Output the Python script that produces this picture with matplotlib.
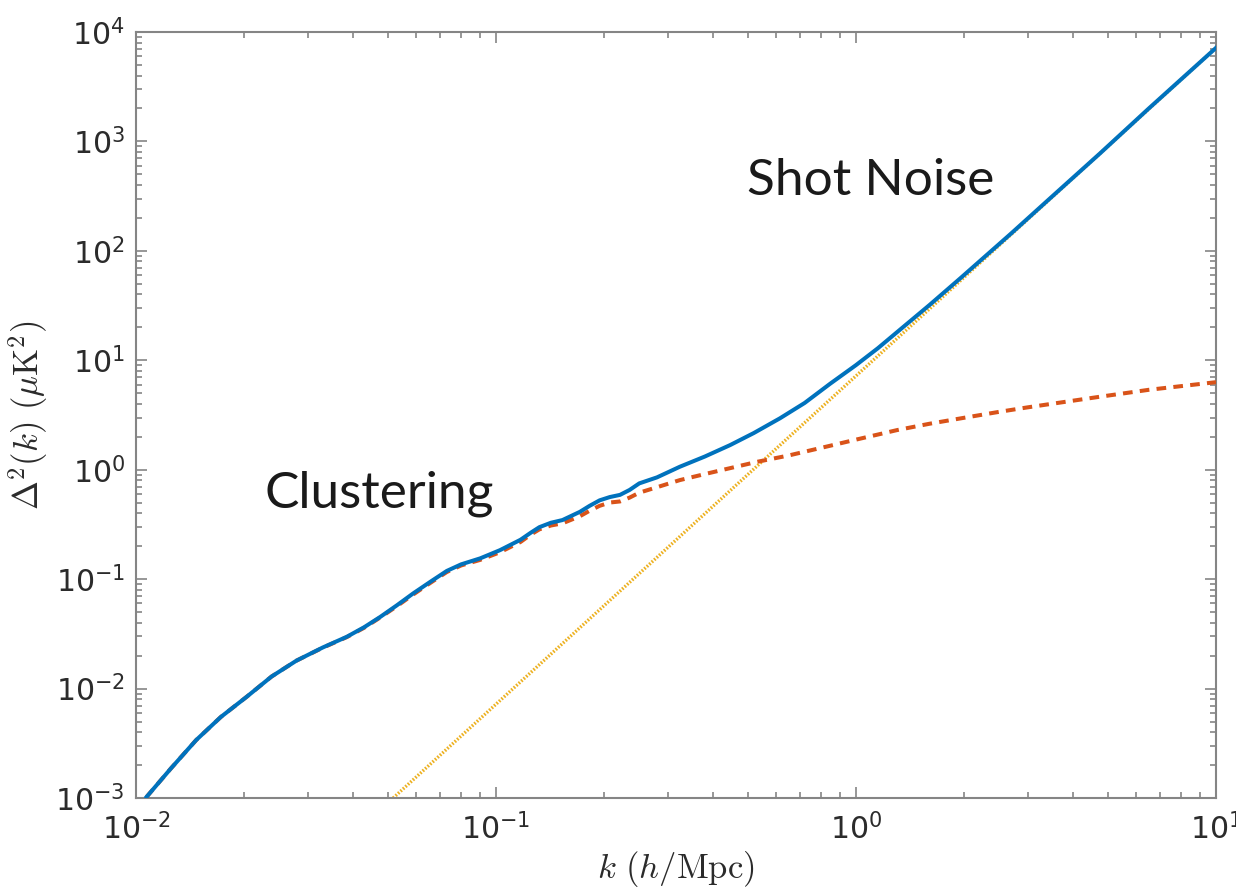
import numpy as np
import matplotlib
matplotlib.use("Agg")
import matplotlib.pyplot as plt
from matplotlib.ticker import LogLocator, FuncFormatter, NullFormatter

# ---- data ----
k_total = [0.0107, 0.0125, 0.0147, 0.0172, 0.0203, 0.0238, 0.0279, 0.0330, 0.0385,
           0.0430, 0.0477, 0.0530, 0.0589, 0.066, 0.073, 0.080, 0.0904, 0.1026,
           0.117, 0.125, 0.132, 0.142, 0.153, 0.171, 0.182, 0.194, 0.207, 0.221,
           0.235, 0.25, 0.28, 0.324, 0.38, 0.447, 0.52, 0.615, 0.72, 0.847, 1.0,
           1.15, 1.32, 1.6, 1.95, 2.7, 3.46, 4.76, 6.5, 10.0]
log_total = [-2.99, -2.73, -2.47, -2.26, -2.075, -1.89, -1.745, -1.625, -1.527,
             -1.44, -1.345, -1.24, -1.13, -1.02, -0.925, -0.865, -0.81, -0.735,
             -0.64, -0.575, -0.525, -0.485, -0.46, -0.385, -0.33, -0.28, -0.25, -0.23,
             -0.185, -0.125, -0.07, 0.027, 0.12, 0.225, 0.335, 0.47, 0.61, 0.785, 0.956,
             1.11, 1.275, 1.505, 1.75, 2.16, 2.48, 2.89, 3.30, 3.855]

k_clust = [0.0107, 0.0125, 0.0147, 0.0172, 0.0203, 0.0238, 0.0279, 0.0330, 0.0385,
           0.0430, 0.0477, 0.0530, 0.0589, 0.066, 0.073, 0.080, 0.0904, 0.1026,
           0.117, 0.125, 0.132, 0.142, 0.153, 0.171, 0.182, 0.194, 0.207, 0.221,
           0.235, 0.25, 0.28, 0.324, 0.38, 0.531, 0.65, 0.85, 1.0, 1.30, 1.6, 2.0,
           2.51, 3.0, 3.46, 4.76, 6.5, 10.0]
log_clust = [-2.99, -2.73, -2.47, -2.26, -2.075, -1.89, -1.745, -1.627, -1.53,
             -1.445, -1.35, -1.248, -1.14, -1.03, -0.935, -0.875, -0.824, -0.754,
             -0.66, -0.592, -0.545, -0.51, -0.49, -0.425, -0.375, -0.33, -0.30, -0.29,
             -0.255, -0.21, -0.16, -0.095, -0.04, 0.072, 0.13, 0.22, 0.275, 0.362, 0.42,
             0.475, 0.53, 0.57, 0.60, 0.667, 0.73, 0.80]

k_shot = [0.0518, 0.531, 10.0]
log_shot = [-3.0, 0.033, 3.856]

annot_text = ["Clustering", "Shot Noise"]
annot_k = [0.0228, 0.498]
annot_logy = [-0.342, 2.51]

# ---- style ----
plt.rcParams['mathtext.fontset'] = 'custom'
plt.rcParams['mathtext.rm'] = 'Liberation Sans'
plt.rcParams['mathtext.it'] = 'Liberation Sans:italic'
plt.rcParams['mathtext.bf'] = 'Liberation Sans:bold'

blue = '#0072BD'
orange = '#D95319'
yellow = '#EDB120'
axcol = '#858585'
txtcol = '#2b2b2b'

fig = plt.figure(figsize=(12.36, 8.92), dpi=100)
ax = fig.add_axes([136 / 1236, 1 - 798 / 892, 1080 / 1236, 766 / 892])

ax.plot(k_shot, 10 ** np.array(log_shot), color=yellow, lw=2.4,
        linestyle=(0, (0.5, 0.5)), zorder=2)
ax.plot(k_clust, 10 ** np.array(log_clust), color=orange, lw=2.9,
        linestyle=(0, (2.4, 1.8)), zorder=3)
ax.plot(k_total, 10 ** np.array(log_total), color=blue, lw=2.9, zorder=4,
        solid_joinstyle='round')

ax.set_xscale('log')
ax.set_yscale('log')
ax.set_xlim(1e-2, 10)
ax.set_ylim(1e-3, 1e4)

fmt = FuncFormatter(lambda v, p: r'$\mathregular{10^{%d}}$' % int(round(np.log10(v))))
for axis in (ax.xaxis, ax.yaxis):
    axis.set_major_locator(LogLocator(base=10, numticks=20))
    axis.set_minor_locator(LogLocator(base=10, subs=np.arange(2, 10), numticks=20))
    axis.set_major_formatter(fmt)
    axis.set_minor_formatter(NullFormatter())

ax.tick_params(which='both', direction='in', top=True, right=True,
               color=axcol, width=1.2, labelcolor=txtcol, labelsize=21.5)
ax.tick_params(which='major', length=8)
ax.tick_params(which='minor', length=4)
ax.tick_params(axis='x', pad=11)
ax.tick_params(axis='y', pad=8)
for s in ax.spines.values():
    s.set_color(axcol)
    s.set_linewidth(1.5)

ax.set_xlabel(r'$k\ (h/\mathrm{Mpc})$', fontsize=25, color=txtcol,
              math_fontfamily='cm', labelpad=2)
ax.set_ylabel(r'$\Delta^2(k)\ (\mu\mathrm{K}^2)$', fontsize=25, color=txtcol,
              math_fontfamily='cm', labelpad=4)

for t, kx, ly in zip(annot_text, annot_k, annot_logy):
    ax.text(kx, 10 ** ly, t, fontsize=37, family=['Lato', 'DejaVu Sans'],
            color='#1a1a1a', ha='left', va='baseline')

fig.savefig('out.png', dpi=100)
